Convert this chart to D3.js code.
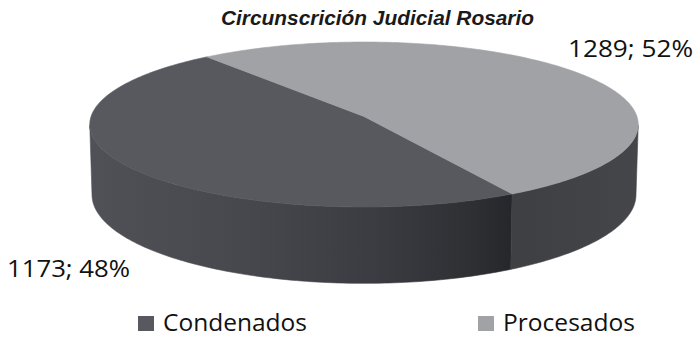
<!DOCTYPE html>
<html>
<head>
<meta charset="utf-8">
<script src="https://cdn.jsdelivr.net/npm/d3@7"></script>
<style>
  html, body { margin: 0; padding: 0; background: #fff; }
  svg { display: block; }
</style>
</head>
<body>
<svg id="chart" width="694" height="338"></svg>
<script>
// Data
const title = "Circunscrición Judicial Rosario";
const categories = ["Condenados", "Procesados"];
const values = [1173, 1289];
const topColors = ["#58595e", "#a0a2a6"];
const legendColors = ["#58595e", "#a0a2a6"];

const svg = d3.select("#chart");

// 3D perspective pie set-up
const cx = 364, cy = 116.5;       // projected centre of the top face
const focal = 2683, dist = 9.83;  // camera focal length and distance (radius units)
const tilt = Math.asin(0.2994);   // elevation of the camera
const sinT = Math.sin(tilt), cosT = Math.cos(tilt);
const depth = 0.27;               // height of the pie (radius units)

// project a point on the rim at angle th (0 = right, clockwise toward viewer), height h
function project(th, h) {
  const x = Math.cos(th), z = Math.sin(th), y = h;
  const v = y * cosT - z * sinT;
  const d = dist - (z * cosT + y * sinT);
  return [cx + focal * x / d, cy - focal * v / d];
}
function projectCenter(h) {
  const v = h * cosT;
  const d = dist - h * sinT;
  return [cx, cy - focal * v / d];
}

const firstAngle = 150.2 * Math.PI / 180;
const pie = d3.pie().sort(null).startAngle(firstAngle).endAngle(firstAngle + 2 * Math.PI);
const arcs = pie(values);
const total = d3.sum(values);

// d3 angle (from 12 o'clock, clockwise) -> rim angle
const toTh = a => a - Math.PI / 2;

function rimPoints(a0, a1, h) {
  const n = Math.max(2, Math.ceil(Math.abs(a1 - a0) / (Math.PI / 180)));
  return d3.range(n + 1).map(i => project(a0 + (a1 - a0) * i / n, h));
}

const defs = svg.append("defs");
const g1 = defs.append("linearGradient").attr("id", "sideDark")
  .attr("gradientUnits", "userSpaceOnUse").attr("x1", 91).attr("x2", 528).attr("y1", 0).attr("y2", 0);
[["0", "#505156"], ["0.35", "#47484d"], ["0.65", "#3b3c41"], ["0.88", "#2e2f33"], ["1", "#222326"]]
  .forEach(([o, c]) => g1.append("stop").attr("offset", o).attr("stop-color", c));
const g2 = defs.append("linearGradient").attr("id", "sideLight")
  .attr("gradientUnits", "userSpaceOnUse").attr("x1", 528).attr("x2", 640).attr("y1", 0).attr("y2", 0);
[["0", "#3f4044"], ["1", "#45464a"]]
  .forEach(([o, c]) => g2.append("stop").attr("offset", o).attr("stop-color", c));
const sideFills = ["url(#sideDark)", "url(#sideLight)"];

// visible band of the outer wall
const visLo = Math.asin(1 / (dist * cosT));
const visHi = Math.PI - visLo;

const line = d3.line();
const pieG = svg.append("g");

// side walls
arcs.forEach((a, i) => {
  const t0 = toTh(a.startAngle), t1 = toTh(a.endAngle);
  for (let k = -2; k <= 2; k++) {
    const s = Math.max(t0 + k * 2 * Math.PI, visLo);
    const e = Math.min(t1 + k * 2 * Math.PI, visHi);
    if (e > s) {
      const topPts = rimPoints(s, e, 0);
      const botPts = rimPoints(e, s, -depth);
      pieG.append("path")
        .attr("d", line(topPts.concat(botPts)) + "Z")
        .attr("fill", sideFills[i])
        .attr("stroke", sideFills[i]).attr("stroke-width", 0.6);
    }
  }
});

// top faces
const c0 = projectCenter(0);
arcs.forEach((a, i) => {
  const pts = [c0].concat(rimPoints(toTh(a.startAngle), toTh(a.endAngle), 0));
  pieG.append("path")
    .attr("d", line(pts) + "Z")
    .attr("fill", topColors[i])
    .attr("stroke", topColors[i]).attr("stroke-width", 0.6);
});

// Title
svg.append("text")
  .attr("x", 221).attr("y", 25)
  .attr("font-family", "'Liberation Sans', Arial, sans-serif")
  .attr("font-weight", "bold").attr("font-style", "italic")
  .attr("font-size", 21).attr("fill", "#1a1a1a")
  .attr("textLength", 313).attr("lengthAdjust", "spacingAndGlyphs")
  .text(title);

// Data labels
const labelPos = [
  { x: 7, y: 277, w: 123 },
  { x: 568, y: 57, w: 125 }
];
arcs.forEach((a, i) => {
  const pct = Math.round(values[i] / total * 100);
  svg.append("text")
    .attr("x", labelPos[i].x).attr("y", labelPos[i].y)
    .attr("font-family", "'Open Sans', sans-serif")
    .attr("font-size", 23).attr("fill", "#111")
    .attr("textLength", labelPos[i].w).attr("lengthAdjust", "spacingAndGlyphs")
    .text(`${values[i]}; ${pct}%`);
});

// Legend
const legendPos = [
  { sx: 138, tx: 163, w: 144 },
  { sx: 478, tx: 503, w: 132 }
];
categories.forEach((c, i) => {
  svg.append("rect")
    .attr("x", legendPos[i].sx).attr("y", 316)
    .attr("width", 16).attr("height", 15)
    .attr("fill", legendColors[i]);
  svg.append("text")
    .attr("x", legendPos[i].tx).attr("y", 331)
    .attr("font-family", "'Open Sans', sans-serif")
    .attr("font-size", 23).attr("fill", "#111")
    .attr("textLength", legendPos[i].w).attr("lengthAdjust", "spacingAndGlyphs")
    .text(c);
});
</script>
</body>
</html>
